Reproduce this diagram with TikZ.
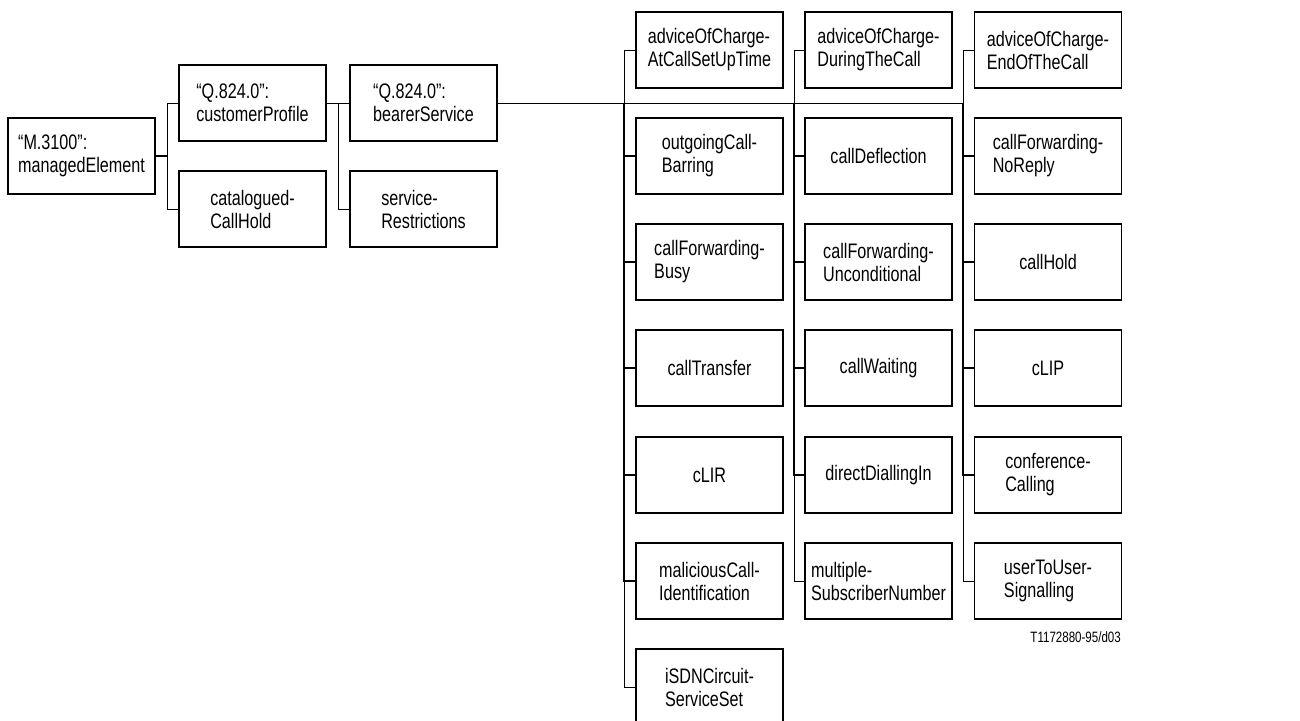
\documentclass[tikz,border=0pt]{standalone}
\usepackage{fontspec}
\setmainfont{Liberation Sans}[FakeStretch=0.77]
\begin{document}
\begin{tikzpicture}[x=1pt,y=-1pt,
  box/.style={draw, line width=1.1pt, minimum width=147pt, minimum height=76pt,
    inner sep=0pt, align=left, font=\fontsize{21}{23}\selectfont},
  conn/.style={line width=0.9pt},
  stub/.style={line width=1.6pt}]
\useasboundingbox (0,0) rectangle (1300,720);
\begin{scope}
\clip (0,0) rectangle (1300,720);
% left part
\node[box] (me) at (81.5,156) {“M.3100”:\\managedElement};
\node[box] (cp) at (252.5,103) {“Q.824.0”:\\customerProfile};
\node[box] (ch) at (252.5,209) {catalogued-\\CallHold};
\node[box] (bs) at (423.5,103) {“Q.824.0”:\\bearerService};
\node[box] (sr) at (423.5,209) {service-\\Restrictions};
% column 1
\node[box] (a1) at (709.5,50)  {adviceOfCharge-\\AtCallSetUpTime};
\node[box] (a2) at (709.5,156) {outgoingCall-\\Barring};
\node[box] (a3) at (709.5,262) {callForwarding-\\Busy};
\node[box] (a4) at (709.5,368) {callTransfer};
\node[box] (a5) at (709.5,475) {cLIR};
\node[box] (a6) at (709.5,581) {maliciousCall-\\Identification};
\node[box] (a7) at (709.5,687) {iSDNCircuit-\\ServiceSet};
% column 2
\node[box] (b1) at (878.5,50)  {adviceOfCharge-\\DuringTheCall};
\node[box] (b2) at (878.5,156) {callDeflection};
\node[box] (b3) at (878.5,262) {callForwarding-\\Unconditional};
\node[box] (b4) at (878.5,368) {callWaiting};
\node[box] (b5) at (878.5,475) {directDiallingIn};
\node[box] (b6) at (878.5,581) {multiple-\\SubscriberNumber};
% column 3
\node[box] (c1) at (1048,50)  {adviceOfCharge-\\EndOfTheCall};
\node[box] (c2) at (1048,156) {callForwarding-\\NoReply};
\node[box] (c3) at (1048,262) {callHold};
\node[box] (c4) at (1048,368) {cLIP};
\node[box] (c5) at (1048,475) {conference-\\Calling};
\node[box] (c6) at (1048,581) {userToUser-\\Signalling};
\node[anchor=east, inner sep=0pt, font=\fontsize{15}{17}\selectfont] (id) at (1121,637) {T1172880-95/d03};
% junctions
\coordinate (j1) at (167,156);
\coordinate (j2) at (338,103);
\coordinate (t1) at (624,103);
\coordinate (t2) at (794,103);
\coordinate (t3) at (963,103);
% connectors
\draw[stub] (me.east) -- (j1);
\draw[conn] (j1) |- (cp.west);
\draw[conn] (j1) |- (ch.west);
\draw[conn] (cp.east) -- (bs.west);
\draw[conn] (j2) |- (sr.west);
\draw[conn] (bs.east) -- (t3);
\foreach \n in {a1,a7} \draw[conn] (t1) |- (\n.west);
\foreach \n in {a2,a3,a4,a5,a6} \draw[stub] (t1) |- (\n.west);
\foreach \n in {b1,b6} \draw[conn] (t2) |- (\n.west);
\foreach \n in {b2,b3,b4,b5} \draw[stub] (t2) |- (\n.west);
\foreach \n in {c1,c6} \draw[conn] (t3) |- (\n.west);
\foreach \n in {c2,c3,c4,c5} \draw[stub] (t3) |- (\n.west);
\end{scope}
\end{tikzpicture}
\end{document}
